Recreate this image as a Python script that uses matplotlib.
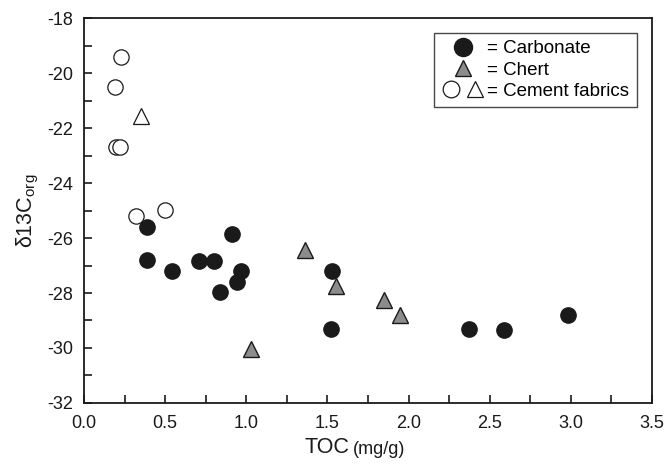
import numpy as np
import matplotlib
matplotlib.use('Agg')
import matplotlib.pyplot as plt
from matplotlib.lines import Line2D
from matplotlib.legend_handler import HandlerTuple

plt.rcParams['font.family'] = ['Liberation Sans', 'DejaVu Sans']
plt.rcParams['axes.unicode_minus'] = False

# carbonate (filled circles)
carb_toc = [0.39, 0.39, 0.54, 0.71, 0.80, 0.91, 0.97, 0.94, 0.84, 1.53, 1.52, 2.37, 2.59, 2.98]
carb_d13 = [-25.6, -26.8, -27.2, -26.85, -26.85, -25.85, -27.2, -27.6, -27.95, -27.2, -29.3, -29.3, -29.35, -28.8]

# chert (grey triangles)
chert_toc = [1.36, 1.55, 1.85, 1.95, 1.03]
chert_d13 = [-26.45, -27.75, -28.25, -28.8, -30.05]

# cement fabrics (open symbols)
cem_circ_toc = [0.23, 0.19, 0.195, 0.22, 0.32, 0.50]
cem_circ_d13 = [-19.4, -20.5, -22.7, -22.7, -25.2, -24.97]
cem_tri_toc = [0.35]
cem_tri_d13 = [-21.55]

fig = plt.figure(figsize=(6.69, 4.68), dpi=100)
ax = fig.add_axes([0.1256, 0.1389, 0.849, 0.8226])

ms = 11
ink = '#1a1a1a'
ax.plot(carb_toc, carb_d13, 'o', ms=ms, mfc=ink, mec=ink, ls='none')
ax.plot(chert_toc, chert_d13, '^', ms=ms, mfc='#8c8c8c', mec=ink, mew=1, ls='none')
ax.plot(cem_circ_toc, cem_circ_d13, 'o', ms=ms, mfc='white', mec=ink, mew=0.9, ls='none')
ax.plot(cem_tri_toc, cem_tri_d13, '^', ms=ms, mfc='white', mec=ink, mew=0.9, ls='none')

ax.set_xlim(0, 3.5)
ax.set_ylim(-32, -18)
ax.set_xticks(np.arange(0, 3.51, 0.5))
ax.set_xticks(np.arange(0, 3.51, 0.25), minor=True)
ax.set_yticks(np.arange(-32, -17, 2))
ax.set_yticks(np.arange(-32, -17, 1), minor=True)
ax.set_xticklabels(['%.1f' % v for v in np.arange(0, 3.51, 0.5)])
ax.set_yticklabels(['%d' % v for v in np.arange(-32, -17, 2)])
ax.tick_params(which='both', direction='in', top=False, right=False, labelsize=13, colors=ink)
ax.tick_params(which='both', length=6, width=1.2)
ax.tick_params(axis='x', pad=9)
ax.tick_params(axis='y', pad=8)
for s in ax.spines.values():
    s.set_linewidth(1.3)
    s.set_color(ink)

fig.text(0.522, 0.022, 'TOC', fontsize=15.5, ha='right', va='bottom', color=ink)
fig.text(0.528, 0.022, '(mg/g)', fontsize=13, ha='left', va='bottom', color=ink)
ax.set_ylabel('\u03b413C$_{\\mathregular{org}}$', fontsize=15.5, color=ink, labelpad=4)

h1 = Line2D([], [], marker='o', ms=13, mfc=ink, mec=ink, ls='none')
h2 = Line2D([], [], marker='^', ms=12, mfc='#8c8c8c', mec=ink, ls='none')
h3a = Line2D([], [], marker='o', ms=12, mfc='white', mec=ink, mew=0.9, ls='none')
h3b = Line2D([], [], marker='^', ms=12, mfc='white', mec=ink, mew=0.9, ls='none')
leg = ax.legend([h1, h2, (h3a, h3b)], ['= Carbonate', '= Chert', '= Cement fabrics'],
                handler_map={tuple: HandlerTuple(ndivide=None, pad=0.2)},
                loc='upper right', bbox_to_anchor=(0.973, 0.962), fontsize=13.5,
                frameon=True, fancybox=False, edgecolor=ink, handletextpad=0.15,
                labelspacing=0.22, borderpad=0.4, handlelength=2.3, borderaxespad=0)
leg.get_frame().set_linewidth(1.0)

fig.savefig('out.png', dpi=100)
